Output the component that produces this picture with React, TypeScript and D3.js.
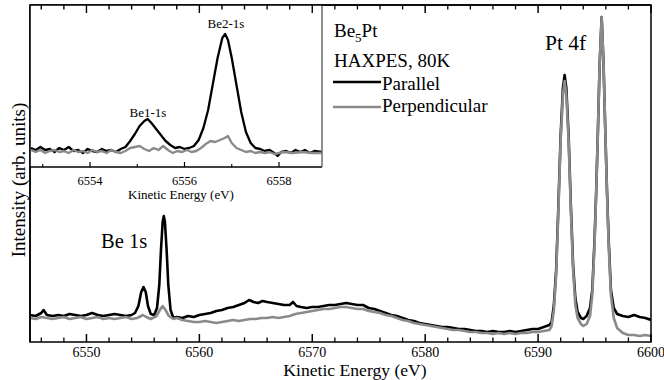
import React from "react";
import * as d3 from "d3";

// ---------- Main spectrum (kinetic energy eV, intensity arb. units) ----------
const mainParallelE = [6545,6545.5,6546,6546.2,6546.5,6547,6547.5,6548,6548.5,6549,6549.5,6550,6550.5,6551,6551.5,6552,6552.5,6553,6553.5,6554,6554.3,6554.6,6554.85,6555.05,6555.25,6555.45,6555.7,6556,6556.25,6556.45,6556.6,6556.75,6556.85,6556.95,6557.1,6557.25,6557.45,6557.7,6558,6558.5,6559,6559.5,6560,6560.5,6561,6561.5,6562,6562.5,6563,6563.5,6564,6564.4,6564.8,6565.2,6565.6,6566,6566.5,6567,6567.5,6568,6568.3,6568.6,6569,6569.5,6570,6570.5,6571,6571.5,6572,6572.5,6573,6573.5,6574,6574.5,6575,6575.5,6576,6576.5,6577,6577.5,6578,6578.5,6579,6579.5,6580,6580.5,6581,6581.5,6582,6582.5,6583,6583.5,6584,6584.5,6585,6585.5,6586,6586.5,6587,6587.5,6588,6588.5,6589,6589.5,6590,6590.5,6591,6591.2,6591.4,6591.6,6591.8,6592,6592.2,6592.35,6592.5,6592.7,6592.9,6593.1,6593.3,6593.5,6593.8,6594,6594.3,6594.6,6594.8,6595,6595.15,6595.3,6595.45,6595.63,6595.8,6595.95,6596.1,6596.25,6596.45,6596.7,6597,6597.5,6598,6598.5,6599,6599.5,6600];
const mainParallelI = [27,26,29,32,27,26,27,26,28,27,26,27,29,27,26,27,28,27,26,27,29,36,50,55,50,36,28,27,34,57,92,120,126,120,92,57,32,24,25,24,26,25,27,28,29,31,32,34,35,37,39,42,40,39,41,40,39,38,37,37,40,36,35,34,35,35,36,37,37,38,39,38,37,37,34,33,31,29,27,26,24,22,21,19,18,17,16,15,15,14,13,13,12,11,11,10,11,10,10,11,10,11,12,13,13,15,17,20,37,72,137,207,254,267,254,207,137,77,44,30,24,23,26,34,52,102,152,212,277,325,277,212,152,102,52,34,28,26,25,27,25,24,22];

const mainPerpE = [6545,6545.5,6546,6546.5,6547,6547.5,6548,6548.5,6549,6549.5,6550,6550.5,6551,6551.5,6552,6552.5,6553,6553.5,6554,6554.5,6555,6555.3,6555.7,6556.2,6556.5,6556.75,6557,6557.3,6557.7,6558,6558.5,6559,6559.5,6560,6560.5,6561,6561.5,6562,6562.5,6563,6563.5,6564,6564.5,6565,6565.5,6566,6566.5,6567,6567.5,6568,6568.5,6569,6569.5,6570,6570.5,6571,6571.5,6572,6572.5,6573,6573.5,6574,6574.5,6575,6575.5,6576,6576.5,6577,6577.5,6578,6578.5,6579,6579.5,6580,6580.5,6581,6581.5,6582,6582.5,6583,6583.5,6584,6584.5,6585,6585.5,6586,6586.5,6587,6587.5,6588,6588.5,6589,6589.5,6590,6590.5,6591,6591.2,6591.4,6591.6,6591.8,6592,6592.2,6592.35,6592.5,6592.7,6592.9,6593.1,6593.3,6593.5,6593.8,6594,6594.3,6594.6,6594.8,6595,6595.15,6595.3,6595.45,6595.63,6595.8,6595.95,6596.1,6596.25,6596.45,6596.7,6597,6597.5,6598,6598.5,6599,6599.5,6600];
const mainPerpI = [24,23,25,24,23,24,25,23,24,25,23,24,25,23,24,23,24,25,23,24,27,25,23,26,32,36,32,26,23,24,22,21,20,20,21,20,19,20,21,22,21,22,23,23,24,24,25,24,25,26,28,29,30,31,32,33,33,34,35,35,34,33,33,31,30,29,27,26,24,22,21,19,18,17,16,15,14,13,12,12,11,10,10,9,9,8,9,8,9,8,9,9,10,10,11,12,16,32,67,132,202,247,261,247,202,132,72,37,24,18,16,18,26,47,97,150,212,277,325,277,212,150,97,47,24,14,9,7,7,6,7,6];

// ---------- Inset: Be 1s region ----------
const insetParallelE = [6552.75,6552.85,6552.95,6553.05,6553.15,6553.25,6553.35,6553.45,6553.55,6553.65,6553.75,6553.85,6553.95,6554.05,6554.15,6554.25,6554.35,6554.45,6554.55,6554.65,6554.75,6554.85,6554.95,6555.05,6555.15,6555.22,6555.3,6555.4,6555.5,6555.6,6555.7,6555.8,6555.9,6556,6556.1,6556.2,6556.3,6556.4,6556.5,6556.6,6556.7,6556.8,6556.86,6556.92,6557,6557.1,6557.2,6557.3,6557.4,6557.5,6557.6,6557.7,6557.8,6557.9,6557.97,6558.05,6558.15,6558.25,6558.35,6558.45,6558.55,6558.65,6558.75,6558.9];
const insetParallelI = [19,17,20,17,18,15,19,17,20,16,17,14,18,16,15,18,16,17,15,18,20,26,33,41,46,48,44,38,32,26,22,19,20,18,19,21,27,39,57,83,109,129,133,127,109,82,55,35,24,19,18,16,17,14,11,15,16,14,17,15,17,14,16,15];
const insetPerpE = [6552.75,6552.85,6552.95,6553.05,6553.15,6553.25,6553.35,6553.45,6553.55,6553.65,6553.75,6553.85,6553.95,6554.05,6554.15,6554.25,6554.35,6554.45,6554.55,6554.65,6554.75,6554.85,6554.95,6555.05,6555.15,6555.25,6555.35,6555.45,6555.55,6555.65,6555.75,6555.85,6555.95,6556.05,6556.15,6556.25,6556.35,6556.45,6556.55,6556.65,6556.75,6556.85,6556.92,6557,6557.1,6557.2,6557.3,6557.4,6557.5,6557.6,6557.7,6557.8,6557.9,6558,6558.1,6558.3,6558.5,6558.7,6558.9];
const insetPerpI = [17,15,17,14,16,17,15,16,14,17,15,16,14,17,15,16,14,17,15,14,16,19,20,21,18,16,19,17,21,17,14,16,15,17,15,16,19,23,26,25,27,29,31,24,19,17,15,16,14,15,14,15,13,14,15,14,15,14,14];

const mainTicksMajor = [6550, 6560, 6570, 6580, 6590, 6600];
const insetTicksMajor = [6554, 6556, 6558];

const BLACK = "#000";
const GRAY = "#8a8a8a";
const FONT = "'Liberation Serif', 'Times New Roman', serif";

export default function App() {
  const W = 664, H = 380;
  const m = { left: 30, right: 651, top: 5, bottom: 342 };
  const x = d3.scaleLinear().domain([6545, 6600]).range([m.left, m.right]);
  const y = d3.scaleLinear().domain([0, 337]).range([m.bottom, m.top]);

  const ins = { left: 30, right: 322, top: 5, bottom: 167 };
  const xi = d3.scaleLinear().domain([6552.73, 6558.91]).range([ins.left, ins.right]);
  const yi = d3.scaleLinear().domain([0, 162]).range([ins.bottom, ins.top]);

  const mk = (xs: number[], ys: number[], sx: any, sy: any) =>
    d3.line<number>().x((_, i) => sx(xs[i])).y((d) => sy(d))(ys) || "";

  const minorMain = d3.range(6546, 6600.01, 2).filter((v) => v % 10 !== 0);
  const minorInset = [6553, 6555, 6557];

  return (
    <svg width={W} height={H} style={{ position: "fixed", left: 0, top: 0, background: "#fff" }} fontFamily={FONT}>
      <rect x={0} y={0} width={W} height={H} fill="#fff" />
      <defs>
        <clipPath id="mainclip"><rect x={m.left} y={m.top} width={m.right - m.left} height={m.bottom - m.top} /></clipPath>
        <clipPath id="insclip"><rect x={ins.left} y={ins.top} width={ins.right - ins.left} height={ins.bottom - ins.top} /></clipPath>
      </defs>

      {/* main curves */}
      <g clipPath="url(#mainclip)" fill="none" strokeLinejoin="round">
        <path d={mk(mainParallelE, mainParallelI, x, y)} stroke={BLACK} strokeWidth={2.6} />
        <path d={mk(mainPerpE, mainPerpI, x, y)} stroke={GRAY} strokeWidth={2.6} />
      </g>

      {/* main frame */}
      <rect x={m.left} y={m.top} width={m.right - m.left} height={m.bottom - m.top} fill="none" stroke="#000" strokeWidth={1.5} />
      {mainTicksMajor.map((t) => (
        <g key={"M" + t}>
          <line x1={x(t)} x2={x(t)} y1={m.bottom} y2={m.bottom - 8} stroke="#000" strokeWidth={1.5} />
          <line x1={x(t)} x2={x(t)} y1={m.top} y2={m.top + 8} stroke="#000" strokeWidth={1.5} />
          <text x={x(t)} y={357} fontSize={14} textAnchor="middle">{t}</text>
        </g>
      ))}
      {minorMain.map((t) => (
        <g key={"m" + t}>
          <line x1={x(t)} x2={x(t)} y1={m.bottom} y2={m.bottom - 4.5} stroke="#000" strokeWidth={1.3} />
          <line x1={x(t)} x2={x(t)} y1={m.top} y2={m.top + 4.5} stroke="#000" strokeWidth={1.3} />
        </g>
      ))}
      <text x={(283 + 427) / 2} y={376} fontSize={17.6} textAnchor="middle">Kinetic Energy (eV)</text>
      <text transform={`translate(25,${(97 + 263) / 2}) rotate(-90)`} fontSize={19} textAnchor="middle">Intensity (arb. units)</text>

      {/* annotations */}
      <text x={101} y={248} fontSize={20.5}>Be 1s</text>
      <text x={545} y={50} fontSize={21.5}>Pt 4f</text>

      {/* legend */}
      <text x={334} y={37} fontSize={19}>Be<tspan fontSize={13} dy={5}>5</tspan><tspan dy={-5}>Pt</tspan></text>
      <text x={334} y={67} fontSize={19}>HAXPES, 80K</text>
      <line x1={333} x2={381} y1={82} y2={82} stroke={BLACK} strokeWidth={2.6} />
      <text x={382} y={90} fontSize={19}>Parallel</text>
      <line x1={333} x2={381} y1={107} y2={107} stroke={GRAY} strokeWidth={2.6} />
      <text x={382} y={112} fontSize={19}>Perpendicular</text>

      {/* inset */}
      <rect x={ins.left} y={ins.top} width={ins.right - ins.left} height={ins.bottom - ins.top} fill="#fff" />
      <g clipPath="url(#insclip)" fill="none" strokeLinejoin="round">
        <path d={mk(insetParallelE, insetParallelI, xi, yi)} stroke={BLACK} strokeWidth={2.3} />
        <path d={mk(insetPerpE, insetPerpI, xi, yi)} stroke={GRAY} strokeWidth={2.3} />
      </g>
      <line x1={ins.left} x2={ins.right} y1={ins.bottom} y2={ins.bottom} stroke="#000" strokeWidth={1.3} />
      <line x1={ins.right} x2={ins.right} y1={ins.top} y2={ins.bottom} stroke="#555" strokeWidth={1.3} />
      <line x1={m.left} x2={m.left} y1={m.top} y2={m.bottom} stroke="#000" strokeWidth={1.5} />
      <line x1={m.left} x2={m.right} y1={m.top} y2={m.top} stroke="#000" strokeWidth={1.5} />
      {mainTicksMajor.concat(minorMain).filter((t) => x(t) < ins.right).map((t) => (
        <line key={"r" + t} x1={x(t)} x2={x(t)} y1={m.top} y2={m.top + (t % 10 === 0 ? 8 : 4.5)} stroke="#000" strokeWidth={1.4} />
      ))}
      {insetTicksMajor.map((t) => (
        <g key={"I" + t}>
          <line x1={xi(t)} x2={xi(t)} y1={ins.bottom} y2={ins.bottom - 5} stroke="#000" strokeWidth={1.2} />
          <text x={xi(t)} y={185} fontSize={12.5} textAnchor="middle">{t}</text>
        </g>
      ))}
      {minorInset.map((t) => (
        <line key={"i" + t} x1={xi(t)} x2={xi(t)} y1={ins.bottom} y2={ins.bottom - 3} stroke="#000" strokeWidth={1.1} />
      ))}
      <text x={181} y={199} fontSize={13} textAnchor="middle">Kinetic Energy (eV)</text>
      <text x={226} y={28} fontSize={13} textAnchor="middle">Be2-1s</text>
      <text x={148} y={117} fontSize={13} textAnchor="middle">Be1-1s</text>
    </svg>
  );
}
